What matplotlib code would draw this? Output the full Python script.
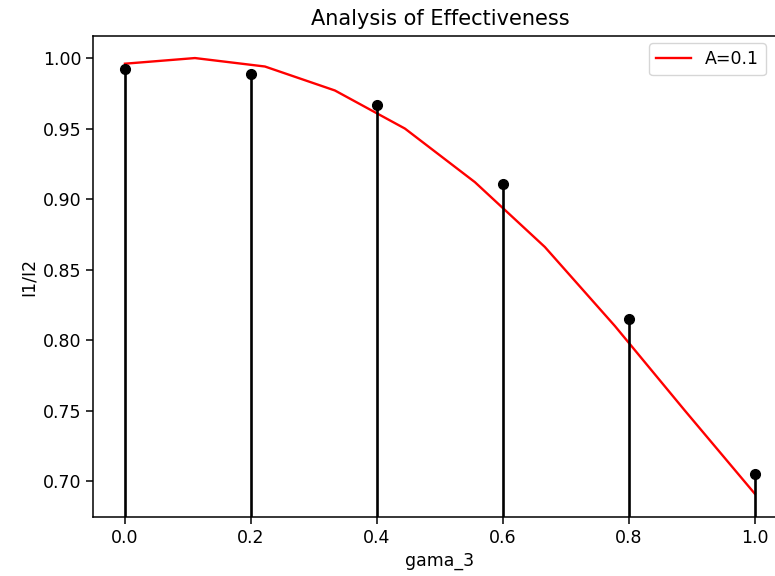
import numpy as np
import matplotlib
matplotlib.use("Agg")
import matplotlib.pyplot as plt

# curve sampled on 10 points of gama_3
gama_line = np.linspace(0, 1, 10)
ratio_line = [0.996, 1.000, 0.994, 0.977, 0.950, 0.912, 0.866, 0.810, 0.750, 0.691]

# measured points
gama_pts = [0.0, 0.2, 0.4, 0.6, 0.8, 1.0]
ratio_pts = [0.992, 0.989, 0.967, 0.911, 0.815, 0.705]

fig = plt.figure(figsize=(7.75, 5.76), dpi=100)
ax = fig.add_axes([0.1206, 0.1024, 0.894, 0.835])

ax.plot(gama_line, ratio_line, color='red', lw=1.7, label='A=0.1')
markerline, stemlines, baseline = ax.stem(gama_pts, ratio_pts, linefmt='k-', markerfmt='ko', basefmt=' ')
plt.setp(stemlines, linewidth=1.9)
plt.setp(markerline, markersize=7)

ax.set_xlim(-0.05, 1.05)
ax.set_ylim(0.6745, 1.0156)
ax.set_xticks([0.0, 0.2, 0.4, 0.6, 0.8, 1.0])
ax.set_yticks([0.70, 0.75, 0.80, 0.85, 0.90, 0.95, 1.00])
ax.tick_params(labelsize=12.5, length=5, width=1.1)
for s in ax.spines.values():
    s.set_linewidth(1.1)

ax.set_title('Analysis of Effectiveness', fontsize=15, pad=8)
ax.set_xlabel('gama_3', fontsize=12.5)
ax.set_ylabel('I1/I2', fontsize=12.5)
ax.legend(loc='upper right', bbox_to_anchor=(0.970, 0.985), borderaxespad=0, fontsize=12.5)

fig.savefig('out.png', dpi=100)
